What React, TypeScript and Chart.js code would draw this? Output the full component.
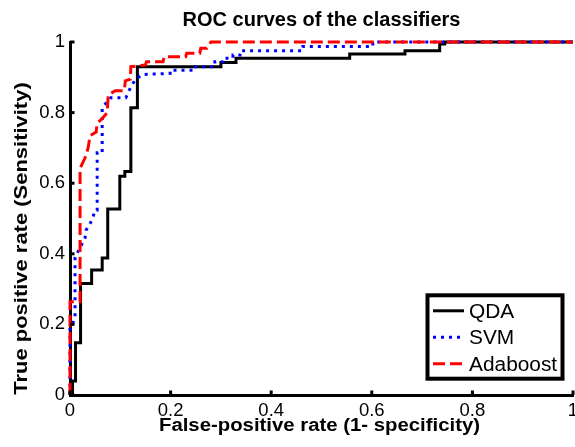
import { useEffect, useRef } from "react";
import { Chart, registerables } from "chart.js";

Chart.register(...registerables);

// ---- Data ----
const TITLE = "ROC curves of the classifiers";
const X_LABEL = "False-positive rate (1- specificity)";
const Y_LABEL = "True positive rate (Sensitivity)";
const TICK_VALUES = [0, 0.2, 0.4, 0.6, 0.8, 1];
const TICK_LABELS = ["0", "0.2", "0.4", "0.6", "0.8", "1"];
const SERIES_NAMES = ["QDA", "SVM", "Adaboost"];

const QDA_FPR = [0, 0.005, 0.005, 0.011, 0.011, 0.021, 0.021, 0.043, 0.043, 0.064, 0.064, 0.075, 0.075, 0.099, 0.099, 0.109, 0.109, 0.121, 0.121, 0.134, 0.134, 0.3, 0.3, 0.33, 0.33, 0.556, 0.556, 0.666, 0.666, 0.735, 0.735, 0.745, 0.745, 1];
const QDA_TPR = [0, 0, 0.04, 0.04, 0.148, 0.148, 0.316, 0.316, 0.354, 0.354, 0.388, 0.388, 0.527, 0.527, 0.62, 0.62, 0.633, 0.633, 0.814, 0.814, 0.93, 0.93, 0.942, 0.942, 0.954, 0.954, 0.966, 0.966, 0.975, 0.975, 0.994, 0.994, 1, 1];

const SVM_FPR = [0, 0, 0.005, 0.01, 0.01, 0.03, 0.032, 0.044, 0.05, 0.054, 0.054, 0.064, 0.064, 0.081, 0.111, 0.12, 0.13, 0.144, 0.199, 0.199, 0.244, 0.244, 0.288, 0.288, 0.304, 0.304, 0.324, 0.324, 0.338, 0.338, 0.463, 0.463, 0.602, 0.602, 1];
const SVM_TPR = [0, 0.19, 0.2, 0.22, 0.39, 0.445, 0.467, 0.496, 0.524, 0.524, 0.686, 0.686, 0.814, 0.842, 0.842, 0.87, 0.894, 0.908, 0.911, 0.92, 0.92, 0.93, 0.93, 0.944, 0.944, 0.954, 0.954, 0.963, 0.963, 0.975, 0.975, 0.987, 0.987, 1, 1];

const ADA_FPR = [0, 0, 0.02, 0.02, 0.03, 0.036, 0.04, 0.052, 0.054, 0.062, 0.074, 0.076, 0.09, 0.108, 0.11, 0.12, 0.121, 0.15, 0.152, 0.185, 0.187, 0.23, 0.232, 0.258, 0.26, 0.272, 0.28, 1];
const ADA_TPR = [0, 0.264, 0.264, 0.642, 0.672, 0.7, 0.735, 0.745, 0.77, 0.78, 0.8, 0.85, 0.862, 0.862, 0.89, 0.895, 0.93, 0.935, 0.944, 0.944, 0.958, 0.958, 0.968, 0.968, 0.982, 0.982, 1, 1];

// ---- Styles ----
const FONT = "'Liberation Sans', Arial, Helvetica, sans-serif";
const COLORS = ["#000000", "#0000ff", "#ff0000"];
const DASHES: number[][] = [[], [3, 5], [12, 5]];
const LINE_W = 3;

const toPoints = (xs: number[], ys: number[]) => xs.map((x, i) => ({ x, y: ys[i] }));

function stretchedText(ctx: CanvasRenderingContext2D, text: string, x: number, y: number, sx: number, rotate = 0) {
  ctx.save();
  ctx.translate(x, y);
  if (rotate) ctx.rotate(rotate);
  ctx.scale(sx, 1);
  ctx.fillText(text, 0, 0);
  ctx.restore();
}

const overlayPlugin = {
  id: "matlabOverlay",
  afterDraw(chart: any) {
    const { ctx, chartArea: a, scales } = chart;
    const xs = scales.x;
    const ys = scales.y;
    ctx.save();
    // inward tick marks
    ctx.strokeStyle = "#000";
    ctx.lineWidth = 3;
    ctx.setLineDash([]);
    TICK_VALUES.forEach((v) => {
      const px = xs.getPixelForValue(v);
      ctx.beginPath();
      ctx.moveTo(px, a.bottom);
      ctx.lineTo(px, a.bottom - 4.5);
      ctx.stroke();
      const py = ys.getPixelForValue(v);
      ctx.beginPath();
      ctx.moveTo(a.left, py);
      ctx.lineTo(a.left + 4.5, py);
      ctx.stroke();
    });

    // titles
    ctx.fillStyle = "#000";
    ctx.textAlign = "center";
    ctx.textBaseline = "alphabetic";
    const cx = (a.left + a.right) / 2;
    ctx.font = `bold 20px ${FONT}`;
    ctx.fillText(TITLE, cx, a.top - 16);
    ctx.font = `bold 18px ${FONT}`;
    stretchedText(ctx, X_LABEL, cx - 2, a.bottom + 36, 1.13);
    stretchedText(ctx, Y_LABEL, 26.5, (a.top + a.bottom) / 2 + 20, 1.22, -Math.PI / 2);

    // legend
    const bx = a.right - 145.5;
    const by = a.bottom - 99.7;
    const bw = 135;
    const bh = 83.4;
    ctx.fillStyle = "#fff";
    ctx.fillRect(bx, by, bw, bh);
    ctx.lineWidth = 4;
    ctx.strokeStyle = "#000";
    ctx.strokeRect(bx, by, bw, bh);
    ctx.font = `19.5px ${FONT}`;
    ctx.textAlign = "left";
    SERIES_NAMES.forEach((name, i) => {
      const ly = by + 15.5 + i * 26.5;
      ctx.strokeStyle = COLORS[i];
      ctx.lineWidth = LINE_W;
      ctx.setLineDash(DASHES[i]);
      ctx.beginPath();
      ctx.moveTo(bx + 5.5, ly);
      ctx.lineTo(bx + 36.5, ly);
      ctx.stroke();
      ctx.setLineDash([]);
      ctx.fillStyle = "#000";
      stretchedText(ctx, name, bx + 41.5, ly + 6.8, 1.07);
    });
    ctx.restore();
  },
};

export default function App() {
  const ref = useRef<HTMLCanvasElement | null>(null);

  useEffect(() => {
    if (!ref.current) return;
    const seriesX = [QDA_FPR, SVM_FPR, ADA_FPR];
    const seriesY = [QDA_TPR, SVM_TPR, ADA_TPR];
    const datasets = SERIES_NAMES.map((name, i) => ({
      label: name,
      data: toPoints(seriesX[i], seriesY[i]),
      borderColor: COLORS[i],
      backgroundColor: COLORS[i],
      borderWidth: LINE_W,
      borderDash: DASHES[i],
      borderCapStyle: "butt" as const,
      borderJoinStyle: "miter" as const,
      pointRadius: 0,
      pointHoverRadius: 0,
      fill: false,
      tension: 0,
      clip: false as const,
      order: 3 - i,
    }));

    const fixScale = (size: "width" | "height", v: number) => (s: any) => {
      s[size] = v;
      s.paddingLeft = 0;
      s.paddingRight = 0;
      s.paddingTop = 0;
      s.paddingBottom = 0;
    };

    const tickCommon = {
      color: "#000",
      font: { family: FONT, size: 18.5 },
      autoSkip: false,
      maxRotation: 0,
      minRotation: 0,
      callback: (_v: any, i: number) => TICK_LABELS[i],
    };

    const chart = new Chart(ref.current, {
      type: "line",
      data: { datasets },
      options: {
        animation: false,
        responsive: false,
        devicePixelRatio: 1,
        parsing: false,
        normalized: true,
        events: [],
        layout: { padding: { top: 42, right: 2, left: 0, bottom: 0 } },
        plugins: {
          legend: { display: false },
          tooltip: { enabled: false },
          title: { display: false },
        },
        scales: {
          x: {
            type: "linear",
            min: 0,
            max: 1,
            afterBuildTicks: (s: any) => {
              s.ticks = TICK_VALUES.map((value) => ({ value }));
            },
            ticks: { ...tickCommon, padding: 4.5 },
            grid: { display: false, drawTicks: false },
            border: { display: true, color: "#000", width: 3 },
            afterFit: fixScale("height", 52),
          },
          y: {
            type: "linear",
            min: 0,
            max: 1,
            afterBuildTicks: (s: any) => {
              s.ticks = TICK_VALUES.map((value) => ({ value }));
            },
            ticks: { ...tickCommon, padding: 5 },
            grid: { display: false, drawTicks: false },
            border: { display: true, color: "#000", width: 3 },
            afterFit: fixScale("width", 70),
          },
        },
      },
      plugins: [overlayPlugin],
    } as any);

    return () => chart.destroy();
  }, []);

  return (
    <canvas
      ref={ref}
      width={575}
      height={447}
      style={{ position: "fixed", left: 0, top: 0, display: "block", background: "#fff" }}
    />
  );
}
